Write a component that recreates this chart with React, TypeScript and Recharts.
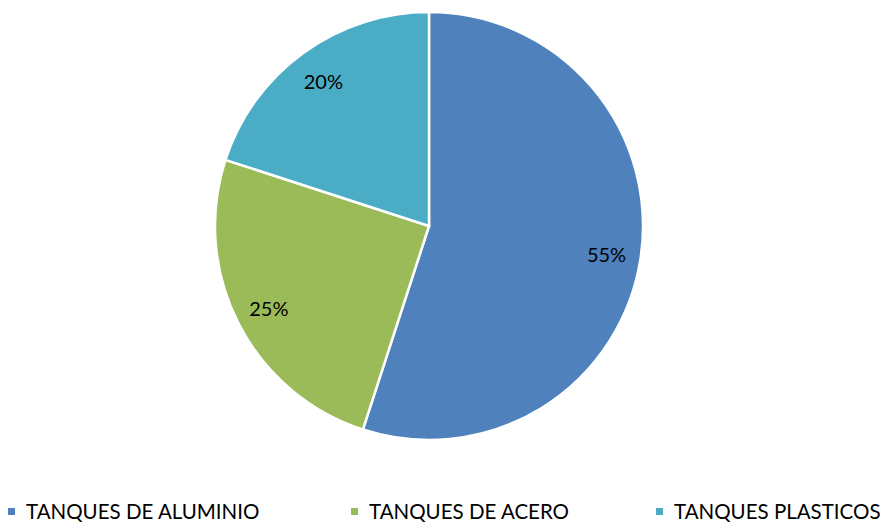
import { PieChart, Pie, Cell, Legend } from "recharts";

const categories = ["TANQUES DE ALUMINIO", "TANQUES DE ACERO", "TANQUES PLASTICOS"];
const shares = [55, 25, 20];
const colors = ["#4F81BD", "#9BBB59", "#4BACC6"];

const data = categories.map((name, i) => ({ name, value: shares[i] }));

const FONT = "Lato, 'Open Sans', sans-serif";
const RAD = Math.PI / 180;

// percent label inside each slice
const renderLabel = (props: any) => {
  const { cx, cy, midAngle, outerRadius, value } = props;
  const r = outerRadius * 0.84;
  const x = cx + r * Math.cos(-midAngle * RAD);
  const y = cy + r * Math.sin(-midAngle * RAD);
  return (
    <text
      x={x}
      y={y}
      fill="#000"
      fontSize={20}
      fontFamily={FONT}
      textAnchor="middle"
      dominantBaseline="central"
    >
      {`${value}%`}
    </text>
  );
};

const legendLeft = [8, 351, 656];

const renderLegend = () => (
  <div style={{ position: "relative", height: 26, width: 880 }}>
    {data.map((d, i) => (
      <div
        key={d.name}
        style={{
          position: "absolute",
          left: legendLeft[i],
          top: 0,
          display: "flex",
          alignItems: "center",
          fontFamily: FONT,
          fontSize: 20.5,
          color: "#000",
          whiteSpace: "nowrap",
        }}
      >
        <span
          style={{
            display: "inline-block",
            width: 7,
            height: 7,
            background: colors[i],
            marginRight: 11,
          }}
        />
        {d.name}
      </div>
    ))}
  </div>
);

export default function App() {
  return (
    <div style={{ position: "absolute", left: 0, top: 0, width: 880, height: 523, background: "#fff" }}>
      <PieChart width={880} height={523} margin={{ top: 0, right: 0, bottom: 0, left: 0 }}>
        <Pie
          data={data}
          dataKey="value"
          nameKey="name"
          cx={429}
          cy={226}
          outerRadius={214}
          startAngle={90}
          endAngle={-270}
          stroke="#fff"
          strokeWidth={2.5}
          label={renderLabel}
          labelLine={false}
          isAnimationActive={false}
        >
          {data.map((d, i) => (
            <Cell key={d.name} fill={colors[i]} />
          ))}
        </Pie>
        <Legend
          content={renderLegend}
          verticalAlign="bottom"
          wrapperStyle={{ left: 0, bottom: -2, width: 880 }}
        />
      </PieChart>
    </div>
  );
}
